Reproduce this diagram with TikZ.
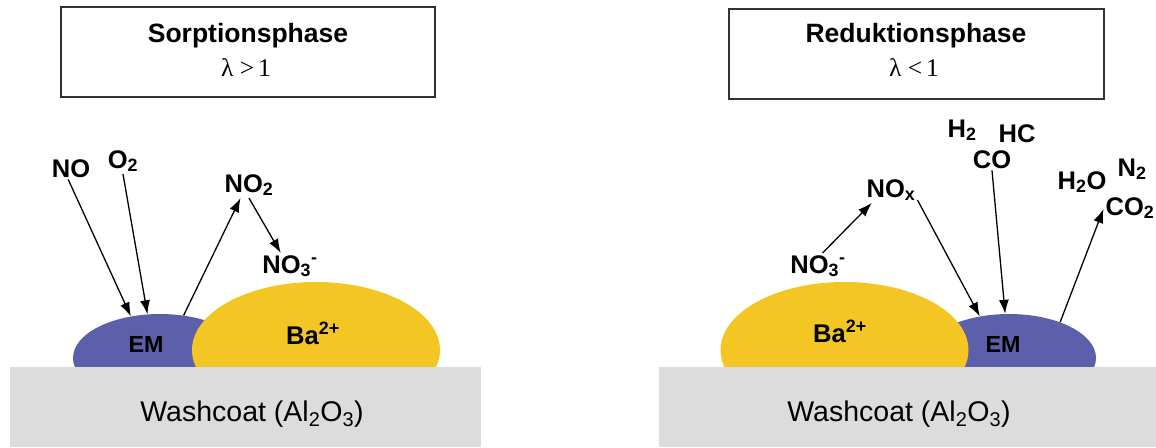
\documentclass[tikz,border=0pt]{standalone}
\usepackage{fontspec}
\setmainfont{Liberation Sans}
\newfontfamily\lamfont{Liberation Serif}
\usetikzlibrary{shapes.geometric,arrows.meta}
\definecolor{emblue}{HTML}{5C5FA9}
\definecolor{bayellow}{HTML}{F4C623}
\definecolor{wcgray}{HTML}{DCDCDC}
\begin{document}
\begin{tikzpicture}[x=1pt,y=-1pt,
  chem/.style={font=\fontsize{25.5}{30}\selectfont\bfseries, inner sep=2pt, anchor=base},
  phasetitle/.style={font=\fontsize{26.5}{32}\selectfont\bfseries, inner sep=0pt, anchor=base},
  lam/.style={font=\fontsize{25.5}{30}\lamfont, inner sep=0pt, anchor=base},
  phasebox/.style={draw=black!80, line width=1.2pt, rectangle, inner sep=0pt},
  emshape/.style={ellipse, fill=emblue, minimum width=174pt, minimum height=88pt, inner sep=0pt},
  bashape/.style={ellipse, fill=bayellow, minimum width=248pt, minimum height=136pt, inner sep=0pt},
  coat/.style={rectangle, fill=wcgray, inner sep=0pt, minimum height=80pt, anchor=north west},
  coattext/.style={font=\fontsize{28.5}{32}\selectfont, inner sep=0pt, anchor=base},
  emtext/.style={font=\fontsize{23.3}{28}\selectfont\bfseries, inner sep=0pt, anchor=base},
  batext/.style={font=\fontsize{25.6}{30}\selectfont\bfseries, inner sep=0pt, anchor=base},
  arr/.style={line width=1.3pt, -{Latex[length=14pt,width=10pt]}}
]
\useasboundingbox (0,0) rectangle (1156,447);
% ---------- left: Sorptionsphase ----------
\node[phasebox, minimum width=374pt, minimum height=90pt] (boxL) at (248,52) {};
\node[phasetitle] (titleL) at (248,42) {Sorptionsphase};
\node[lam] (lamL) at (246,76) {λ\hspace{0.25em}>\hspace{0.15em}1};
\node[emshape] (emL) at (160,358) {};
\node[bashape] (baL) at (316,350) {};
\node[coat, minimum width=471pt] (coatL) at (10,367) {};
\node[emtext] (emlabL) at (146,352) {EM};
\node[batext] (balabL) at (313,344) {Ba\textsuperscript{2+}};
\node[coattext] (coatlabL) at (252,421) {Washcoat (Al\textsubscript{2}O\textsubscript{3})};
\node[chem] (noL) at (71,177) {NO};
\node[chem] (o2L) at (123,168) {O\textsubscript{2}};
\node[chem] (no2L) at (249,192) {NO\textsubscript{2}};
\node[chem] (no3L) at (290,273) {NO\textsubscript{3}\textsuperscript{-}};
\draw[arr] (noL.256) -- (emL.125);
\draw[arr] (o2L.south) -- (emL.106);
\draw[arr] (emL.61) -- (no2L.237);
\draw[arr] (no2L.south) -- (no3L.125);
% ---------- right: Reduktionsphase ----------
\node[phasebox, minimum width=375pt, minimum height=90pt] (boxR) at (916.5,54) {};
\node[phasetitle] (titleR) at (916,42) {Reduktionsphase};
\node[lam] (lamR) at (914,76) {λ\hspace{0.25em}<\hspace{0.15em}1};
\node[emshape] (emR) at (1009,358) {};
\node[bashape] (baR) at (844.5,350) {};
\node[coat, minimum width=497pt] (coatR) at (659,367) {};
\node[emtext] (emlabR) at (1003,352) {EM};
\node[batext] (balabR) at (840,342) {Ba\textsuperscript{2+}};
\node[coattext] (coatlabR) at (899,421) {Washcoat (Al\textsubscript{2}O\textsubscript{3})};
\node[chem] (no3R) at (818,273) {NO\textsubscript{3}\textsuperscript{-}};
\node[chem] (noxR) at (891,197) {NO\textsubscript{x}};
\node[chem] (h2R) at (962,137) {H\textsubscript{2}};
\node[chem] (hcR) at (1017,142) {HC};
\node[chem] (coR) at (992,168) {CO};
\node[chem] (h2oR) at (1082,189) {H\textsubscript{2}O};
\node[chem] (n2R) at (1132,176) {N\textsubscript{2}};
\node[chem] (co2R) at (1130,215) {CO\textsubscript{2}};
\draw[arr] (no3R.71) -- (noxR.214);
\draw[arr] (noxR.339) -- (emR.125);
\draw[arr] (coR.south) -- (emR.95);
\draw[arr] (emR.35) -- (co2R.182);
\end{tikzpicture}
\end{document}
